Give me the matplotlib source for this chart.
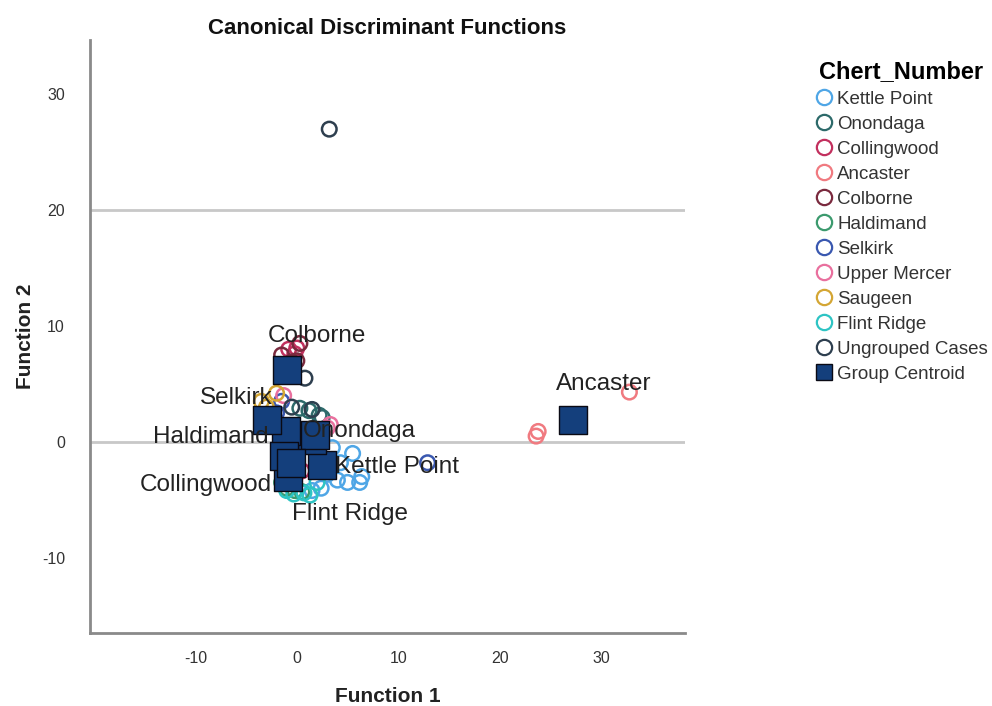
import matplotlib
matplotlib.use("Agg")
import matplotlib.pyplot as plt
from matplotlib.lines import Line2D

plt.rcParams['font.family'] = ['Liberation Sans', 'DejaVu Sans']
plt.rcParams['axes.unicode_minus'] = False

groups = ["Kettle Point", "Onondaga", "Collingwood", "Ancaster", "Colborne",
          "Haldimand", "Selkirk", "Upper Mercer", "Saugeen", "Flint Ridge",
          "Ungrouped Cases"]
colors = ["#4fa6e6", "#2d6a6a", "#c2305e", "#f07a80", "#7a2a3e",
          "#3c9a6e", "#3a58b0", "#e9709e", "#d4a634", "#2ec4c4", "#2e3f4f"]

# Function 1 / Function 2 scores of the cases, per group
f1 = {
    "Kettle Point": [3.5, 4.0, 5.0, 6.2, 6.4, 2.4, 1.5, 4.3, 3.0, 5.5],
    "Onondaga": [0.3, 1.2, 2.2, 2.5, 1.0, 2.0],
    "Collingwood": [-0.8, 0.0, -0.2, -1.0, 0.5],
    "Ancaster": [23.8, 23.6, 32.8],
    "Colborne": [-1.5, 0.3, -0.5, 0.0],
    "Haldimand": [-1.0, -0.2, 0.5, -1.5],
    "Selkirk": [12.9, -1.5, -2.0],
    "Upper Mercer": [3.3, 3.0, -1.3],
    "Saugeen": [-3.5, -3.0, -2.0],
    "Flint Ridge": [-0.3, 0.7, 1.3, -1.0, 2.0],
    "Ungrouped Cases": [3.2, 0.8, 1.5, -0.5],
}
f2 = {
    "Kettle Point": [-0.5, -3.3, -3.5, -3.5, -3.0, -4.0, -4.2, -1.8, -2.8, -1.0],
    "Onondaga": [2.9, 2.7, 2.3, 2.1, 0.5, -0.5],
    "Collingwood": [8.0, 8.1, 7.6, -1.0, -2.5],
    "Ancaster": [0.9, 0.5, 4.3],
    "Colborne": [7.5, 8.5, 6.9, 7.0],
    "Haldimand": [-4.0, -4.2, -4.3, -3.5],
    "Selkirk": [-1.8, 3.5, 2.5],
    "Upper Mercer": [1.5, 1.2, 4.0],
    "Saugeen": [3.5, 3.0, 4.2],
    "Flint Ridge": [-4.5, -4.4, -4.6, -4.2, -3.5],
    "Ungrouped Cases": [27.0, 5.5, 2.8, 3.0],
}

# Group centroids
cent_names = ["Kettle Point", "Onondaga", "Collingwood", "Ancaster", "Colborne",
              "Haldimand", "Selkirk", "Upper Mercer", "Saugeen", "Flint Ridge"]
cent_f1 = [2.5, 1.5, -0.9, 27.2, -1.0, -1.1, -2.9, 1.8, -1.3, -0.6]
cent_f2 = [-2.0, 0.2, -3.0, 1.9, 6.2, 0.9, 1.9, 0.6, -1.2, -1.8]

# Centroid label positions (data coordinates)
lab_names = ["Colborne", "Selkirk", "Haldimand", "Onondaga", "Kettle Point",
             "Collingwood", "Flint Ridge", "Ancaster"]
lab_x = [2.0, -6.0, -8.5, 6.2, 9.9, -9.0, 5.2, 30.3]
lab_y = [9.1, 3.8, 0.4, 0.9, -2.2, -3.7, -6.2, 5.0]

fig = plt.figure(figsize=(9.92, 7.06), dpi=100)
ax = fig.add_axes([0.0907, 0.1034, 0.600, 0.840])

ax.axhline(0, color="#c8c8c8", lw=2, zorder=1)
ax.axhline(20, color="#c8c8c8", lw=2, zorder=1)

for g, c in zip(groups, colors):
    ax.scatter(f1[g], f2[g], s=110, facecolors="none", edgecolors=c,
               linewidths=1.8, zorder=3)

ax.scatter(cent_f1, cent_f2, s=380, marker="s", color="#143f7c",
           edgecolors="#0a0a14", linewidths=1.0, zorder=4)

for n, x, y in zip(lab_names, lab_x, lab_y):
    ax.text(x, y, n, fontsize=17.5, color="#222222", ha="center", va="center",
            zorder=5)

ax.set_xlim(-20.4, 38.3)
ax.set_ylim(-16.5, 34.7)
ax.set_xticks([-10, 0, 10, 20, 30])
ax.set_yticks([-10, 0, 10, 20, 30])
for s in ["top", "right"]:
    ax.spines[s].set_visible(False)
for s in ["left", "bottom"]:
    ax.spines[s].set_color("#8a8a8a")
    ax.spines[s].set_linewidth(2)
ax.tick_params(length=0, labelsize=11.5, colors="#333333", pad=13)
ax.tick_params(axis="y", pad=18)

ax.set_title("Canonical Discriminant Functions", fontsize=16, fontweight="bold",
             color="#111111", pad=4)
ax.set_xlabel("Function 1", fontsize=15, fontweight="bold", color="#222222",
              labelpad=15)
ax.set_ylabel("Function 2", fontsize=15, fontweight="bold", color="#222222",
              labelpad=5)

handles = [Line2D([], [], marker="o", linestyle="none", markersize=11,
                  markerfacecolor="none", markeredgecolor=c, markeredgewidth=1.6)
           for c in colors]
handles.append(Line2D([], [], marker="s", linestyle="none", markersize=12,
                      markerfacecolor="#143f7c", markeredgecolor="#0a0a14"))
labels = groups + ["Group Centroid"]
leg = fig.legend(handles, labels, loc="upper left", bbox_to_anchor=(0.812, 0.926),
                 frameon=False, title="Chert_Number", fontsize=13.5,
                 title_fontproperties={"weight": "bold", "size": 17},
                 handletextpad=0.1, labelspacing=0.42, handlelength=1.2,
                 borderaxespad=0)
for t in leg.get_texts():
    t.set_color("#333333")

fig.savefig("out.png", dpi=100)
